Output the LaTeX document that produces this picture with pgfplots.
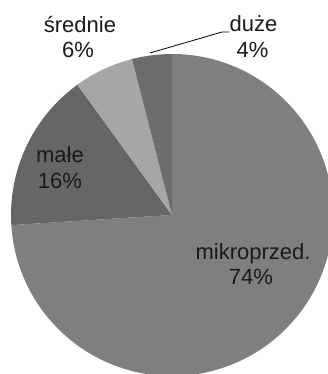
\documentclass[border=0pt]{standalone}
\usepackage{pgfplots}
\usepackage{pgfplotstable}
\pgfplotsset{compat=1.18}
\usepackage{fontspec}
\setmainfont{Liberation Sans}

% enterprise size classes, share in percent
\pgfplotstableread{
label        value
mikroprzed.  74
małe         16
średnie      6
duże         4
}\sizes

\definecolor{sliceC0}{HTML}{7F7F7F}
\definecolor{sliceC1}{HTML}{666666}
\definecolor{sliceC2}{HTML}{A6A6A6}
\definecolor{sliceC3}{HTML}{6D6D6D}
\definecolor{labeltext}{HTML}{1A1A1A}

\begin{document}
\begin{tikzpicture}
% cumulative angles: start at 12 o'clock, run clockwise
\def\angstart{90}
\pgfplotsforeachungrouped \i in {0,...,3}{%
  \pgfplotstablegetelem{\i}{value}\of\sizes
  \pgfmathsetmacro\angend{\angstart - 3.6*\pgfplotsretval}%
  \expandafter\xdef\csname sliceS\i\endcsname{\angstart}%
  \expandafter\xdef\csname sliceE\i\endcsname{\angend}%
  \global\let\angstart\angend
}
\begin{axis}[
  x=1bp, y=1bp,
  xmin=0, xmax=328, ymin=0, ymax=374,
  hide axis, clip=true,
]
\pgfplotsinvokeforeach{0,...,3}{%
  \fill[sliceC#1] (axis cs:172,159) -- ++(\csname sliceS#1\endcsname:161bp)
    arc[start angle=\csname sliceS#1\endcsname,
        end angle=\csname sliceE#1\endcsname, radius=161bp] -- cycle;
}
% leader line of the smallest slice
\draw[black, line width=0.8bp] (axis cs:150,321) -- (axis cs:222,342) -- (axis cs:229,342);
\begin{scope}[every node/.style={font=\fontsize{22bp}{25bp}\selectfont,
    text=labeltext, anchor=base, inner sep=0pt}]
\node at (axis cs:253,114.7) {mikroprzed.};
\node at (axis cs:251,89.7) {74\%};
\node at (axis cs:60,211.3) {małe};
\node at (axis cs:60,185.7) {16\%};
\node at (axis cs:80,341.7) {średnie};
\node at (axis cs:78,316.3) {6\%};
\node at (axis cs:253.5,342.3) {duże};
\node at (axis cs:252.5,316.3) {4\%};
\end{scope}
\end{axis}
\pgfresetboundingbox
\useasboundingbox (current axis.south west) rectangle (current axis.north east);
\end{tikzpicture}
\end{document}
